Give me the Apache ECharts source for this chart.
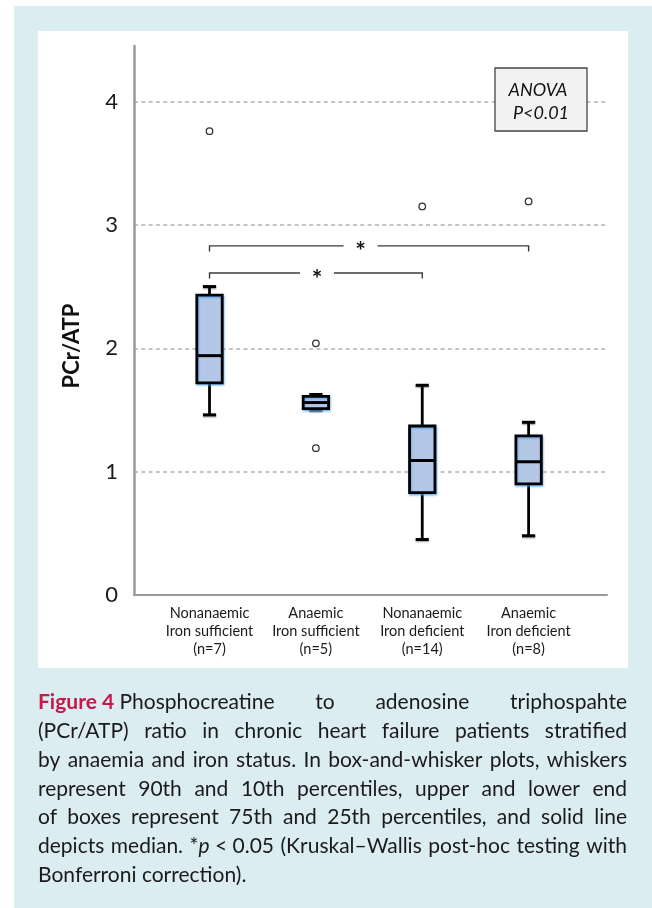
<!DOCTYPE html>
<html>
<head>
<meta charset="utf-8">
<script src="https://cdn.jsdelivr.net/npm/echarts@6/dist/echarts.min.js"></script>
<style>
  html, body { margin: 0; padding: 0; background: #ffffff; }
  #chart { width: 652px; height: 908px; }
</style>
</head>
<body>
<div id="chart"></div>
<script>
// ---- data -------------------------------------------------------------
const groups = [
  'Nonanaemic\nIron sufficient\n(n=7)',
  'Anaemic\nIron sufficient\n(n=5)',
  'Nonanaemic\nIron deficient\n(n=14)',
  'Anaemic\nIron deficient\n(n=8)'
];
// 10th / 25th / 50th / 75th / 90th percentiles per group
const p10 = [1.46, 1.50, 0.45, 0.48];
const p25 = [1.72, 1.51, 0.83, 0.90];
const p50 = [1.94, 1.56, 1.09, 1.08];
const p75 = [2.43, 1.61, 1.37, 1.29];
const p90 = [2.50, 1.625, 1.70, 1.40];
// individual points outside the whiskers: [group position, value]
const outliers = [[1, 3.76], [2, 2.04], [2, 1.19], [3, 3.15], [4, 3.19]];
const yTicks = [0, 1, 2, 3, 4];
const groupPositions = [1, 2, 3, 4];
// pairwise post-hoc comparisons: [from group, to group, bracket level, star position]
const comparisons = [[1, 3, 2.61, 2.01], [1, 4, 2.83, 2.42]];
const anovaText = ['ANOVA', 'P<0.01'];
const yTitle = 'PCr/ATP';

const captionLines = [
  ['{b|Figure 4} Phosphocreatine', 'to', 'adenosine', 'triphospahte'],
  ['(PCr/ATP)', 'ratio', 'in', 'chronic', 'heart', 'failure', 'patients', 'stratified'],
  ['by', 'anaemia', 'and', 'iron', 'status.', 'In', 'box-and-whisker', 'plots,', 'whiskers'],
  ['represent', '90th', 'and', '10th', 'percentiles,', 'upper', 'and', 'lower', 'end'],
  ['of', 'boxes', 'represent', '75th', 'and', '25th', 'percentiles,', 'and', 'solid', 'line'],
  ['depicts', 'median.', '*{i|p} < 0.05', '(Kruskal–Wallis', 'post-hoc', 'testing', 'with'],
  ['Bonferroni', 'correction).']
];

// ---- styling helpers ---------------------------------------------------
const FONT = 'Lato, "Noto Sans", sans-serif';
const INK = '#1a1a1a';
const FIG_RED = '#c8174b';

// split a word with {style|text} markup into segments
function segments(word) {
  const out = [];
  const re = /\{(\w+)\|([^}]*)\}|([^{]+)/g;
  let m;
  while ((m = re.exec(word))) {
    if (m[1]) out.push({ style: m[1], text: m[2] });
    else out.push({ style: null, text: m[3] });
  }
  return out;
}
const measureCtx = document.createElement('canvas').getContext('2d');
function wordWidth(word, size) {
  let w = 0;
  segments(word).forEach(s => {
    const weight = s.style === 'b' ? 'bold ' : '';
    const slant = s.style === 'i' ? 'italic ' : '';
    measureCtx.font = slant + weight + size + 'px ' + FONT;
    w += measureCtx.measureText(s.text).width;
  });
  return w;
}

// ---- caption layout (justified lines) ---------------------------------
const capLeft = 38, capRight = 627, capWidth = capRight - capLeft;
const capBaseline0 = 709, capLineStep = 28.9;
let capSize = 21;
captionLines.slice(0, -1).forEach(line => {
  measureCtx.font = '10px ' + FONT;
  const space = measureCtx.measureText(' ').width / 10;
  let w = 0;
  line.forEach(word => { w += wordWidth(word, 10) / 10; });
  w += space * (line.length - 1) * 0.9;
  capSize = Math.min(capSize, capWidth / w);
});
const captionElements = [];
captionLines.forEach((line, li) => {
  const widths = line.map(w => wordWidth(w, capSize));
  const total = widths.reduce((a, b) => a + b, 0);
  const isLast = li === captionLines.length - 1;
  measureCtx.font = capSize + 'px ' + FONT;
  const gap = isLast ? measureCtx.measureText(' ').width : (capWidth - total) / (line.length - 1);
  let x = capLeft;
  const yMid = capBaseline0 + li * capLineStep - capSize * 0.33;
  line.forEach((word, wi) => {
    captionElements.push({
      type: 'text',
      z: 10,
      style: {
        text: word,
        x: x,
        y: yMid,
        fill: INK,
        fontSize: capSize,
        fontFamily: FONT,
        align: 'left',
        verticalAlign: 'middle',
        rich: {
          b: { fontSize: capSize, fontFamily: FONT, fontWeight: 'bold', fill: FIG_RED },
          i: { fontSize: capSize, fontFamily: FONT, fontStyle: 'italic', fill: INK }
        }
      }
    });
    x += widths[wi] + gap;
  });
});

// ---- chart ---------------------------------------------------------------
const boxData = groupPositions.map((g, i) => [g, p10[i], p25[i], p50[i], p75[i], p90[i]]);

function renderBox(params, api) {
  const x = api.value(0);
  const lo = api.coord([x, api.value(1)]);
  const q1 = api.coord([x, api.value(2)]);
  const md = api.coord([x, api.value(3)]);
  const q3 = api.coord([x, api.value(4)]);
  const hi = api.coord([x, api.value(5)]);
  const cx = lo[0];
  const halfBox = 12.7;
  const halfCap = 6.6;
  const line = { stroke: '#000', lineWidth: 2.8 };
  const cap = { stroke: '#000', lineWidth: 3, shadowColor: 'rgba(0,0,0,0.35)', shadowBlur: 1.5, shadowOffsetY: 1.2 };
  return {
    type: 'group',
    children: [
      { type: 'line', shape: { x1: cx, y1: hi[1], x2: cx, y2: q3[1] }, style: line },
      { type: 'line', shape: { x1: cx, y1: q1[1], x2: cx, y2: lo[1] }, style: line },
      { type: 'line', shape: { x1: cx - halfCap, y1: hi[1], x2: cx + halfCap, y2: hi[1] }, style: cap },
      { type: 'line', shape: { x1: cx - halfCap, y1: lo[1], x2: cx + halfCap, y2: lo[1] }, style: cap },
      {
        type: 'rect',
        shape: { x: cx - halfBox, y: q3[1], width: halfBox * 2, height: q1[1] - q3[1] },
        style: {
          fill: '#b4c7e7', stroke: '#000', lineWidth: 2.8,
          shadowColor: 'rgba(70,160,240,0.7)', shadowBlur: 2, shadowOffsetX: 0.8, shadowOffsetY: 1.4
        }
      },
      { type: 'line', shape: { x1: cx - halfBox, y1: md[1], x2: cx + halfBox, y2: md[1] }, style: { stroke: '#000', lineWidth: 3 } }
    ]
  };
}

function renderBracket(params, api) {
  const from = api.value(0), to = api.value(1), lvl = api.value(2), star = api.value(3);
  const a = api.coord([from, lvl]);
  const b = api.coord([to, lvl]);
  const s = api.coord([star, lvl]);
  const legEnd = api.coord([from, lvl - 0.045])[1];
  const gapHalf = 17;
  const st = { stroke: '#3a3a3a', lineWidth: 1.4, fill: null };
  return {
    type: 'group',
    children: [
      { type: 'polyline', shape: { points: [[a[0], legEnd], [a[0], a[1]], [s[0] - gapHalf, a[1]]] }, style: st },
      { type: 'polyline', shape: { points: [[s[0] + gapHalf, b[1]], [b[0], b[1]], [b[0], legEnd]] }, style: st },
      {
        type: 'text',
        style: {
          text: '*', x: s[0], y: s[1] + 6.5, fill: '#111', fontSize: 25, fontWeight: 'bold', fontFamily: FONT,
          align: 'center', verticalAlign: 'middle'
        }
      }
    ]
  };
}

const chart = echarts.init(document.getElementById('chart'), null, { renderer: 'canvas' });

chart.setOption({
  backgroundColor: '#ffffff',
  animation: false,
  grid: { left: 134, right: 45, top: 46, bottom: 313, containLabel: false },
  xAxis: {
    type: 'value',
    min: 0.29,
    max: 4.737,
    axisLine: { show: true, lineStyle: { color: '#9a9a9a', width: 2 } },
    axisTick: { show: false },
    splitLine: { show: false },
    axisLabel: {
      customValues: groupPositions,
      formatter: v => groups[Math.round(v) - 1] || '',
      color: INK,
      fontSize: 14.5,
      lineHeight: 18,
      fontFamily: FONT,
      margin: 9
    }
  },
  yAxis: {
    type: 'value',
    min: 0,
    max: 4.45,
    interval: 1,
    axisLine: { show: true, lineStyle: { color: '#9a9a9a', width: 2.5 } },
    axisTick: { show: false },
    axisLabel: {
      customValues: yTicks,
      color: INK,
      fontSize: 22,
      fontFamily: FONT,
      margin: 16
    },
    splitLine: {
      show: true,
      showMinLine: false,
      showMaxLine: false,
      lineStyle: { color: '#c4c4c4', width: 2, type: [4, 3.3] }
    }
  },
  series: [
    {
      type: 'custom',
      name: 'boxes',
      renderItem: renderBox,
      data: boxData,
      encode: { x: 0, y: [1, 5] },
      clip: false,
      z: 3
    },
    {
      type: 'scatter',
      name: 'outliers',
      data: outliers,
      symbol: 'circle',
      symbolSize: 6.5,
      itemStyle: { color: '#ffffff', borderColor: '#000', borderWidth: 1.3 },
      z: 4
    },
    {
      type: 'custom',
      name: 'comparisons',
      renderItem: renderBracket,
      data: comparisons,
      encode: { x: [0, 1], y: 2 },
      clip: false,
      z: 4
    }
  ],
  graphic: {
    elements: [
      { type: 'rect', z: -20, silent: true, shape: { x: 14, y: 6, width: 638, height: 902 }, style: { fill: '#dcedf2' } },
      { type: 'rect', z: -19, silent: true, shape: { x: 38, y: 31, width: 590, height: 637 }, style: { fill: '#ffffff' } },
      {
        type: 'text', z: 10,
        x: 72, y: 346, rotation: Math.PI / 2,
        style: {
          text: yTitle, fill: '#111', fontSize: 22, fontWeight: 'bold', fontFamily: FONT,
          align: 'center', verticalAlign: 'middle'
        }
      },
      {
        type: 'rect', z: 10,
        shape: { x: 495, y: 68, width: 92, height: 63 },
        style: { fill: '#f2f2f2', stroke: '#454545', lineWidth: 1.3 }
      },
      {
        type: 'text', z: 11,
        style: {
          text: anovaText[0], x: 538, y: 90, fill: '#111', fontSize: 18, fontStyle: 'italic',
          fontFamily: FONT, align: 'center', verticalAlign: 'middle'
        }
      },
      {
        type: 'text', z: 11,
        style: {
          text: anovaText[1], x: 541, y: 113, fill: '#111', fontSize: 18, fontStyle: 'italic',
          fontFamily: FONT, align: 'center', verticalAlign: 'middle'
        }
      }
    ].concat(captionElements)
  }
});
</script>
</body>
</html>
